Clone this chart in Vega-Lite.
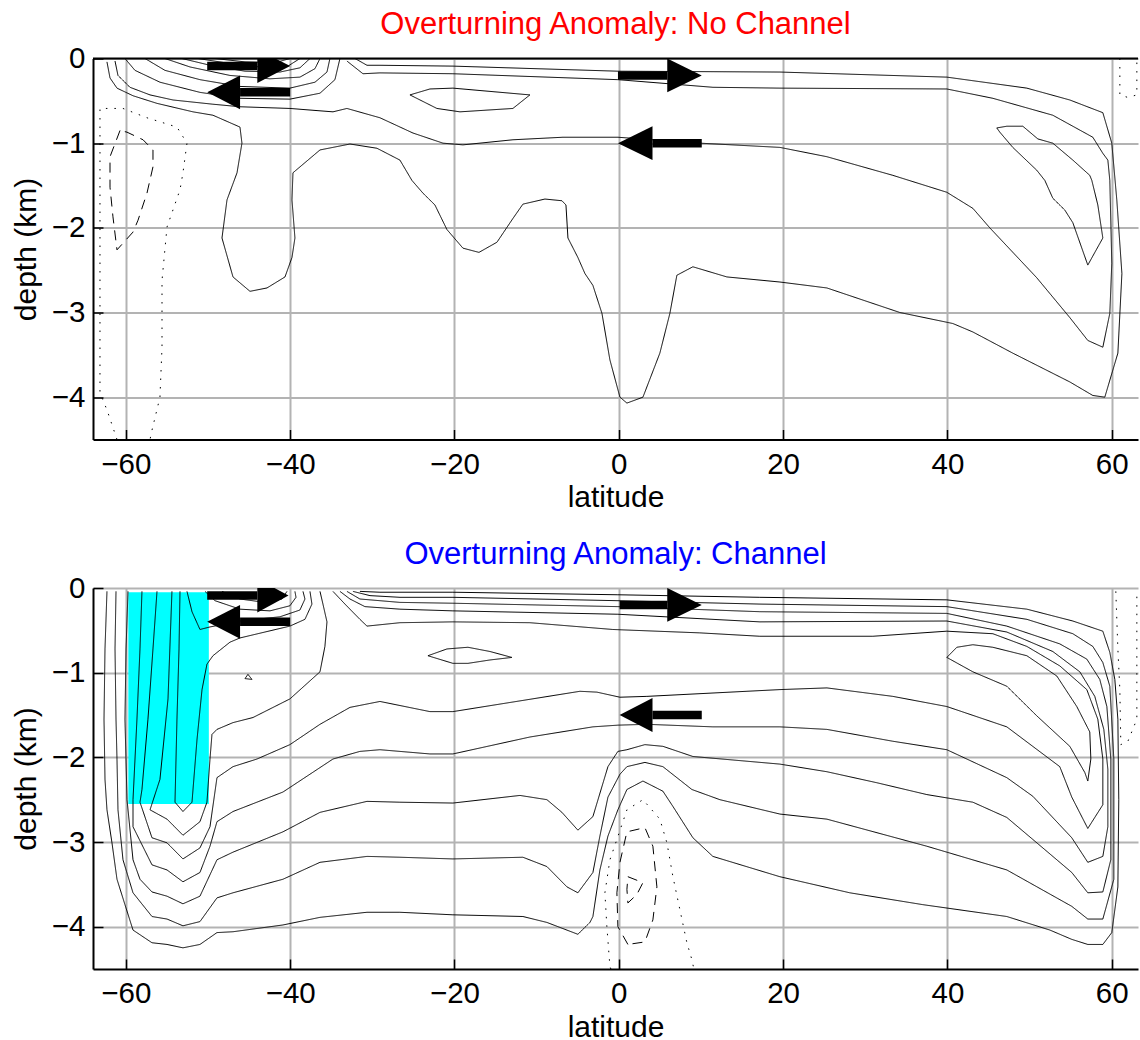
{
  "$schema": "https://vega.github.io/schema/vega-lite/v6.json",
  "padding": {"left": 11, "top": 8.5, "right": 0, "bottom": 0},
  "spacing": 25.5,
  "config": {
    "font": "Liberation Sans",
    "view": {"stroke": null},
    "axis": {
      "grid": true, "gridColor": "#b3b3b3", "gridWidth": 2, "gridOpacity": 1,
      "domainColor": "black", "domainWidth": 2,
      "tickColor": "black", "tickWidth": 1.5, "tickSize": -10,
      "labelFontSize": 29.5, "labelColor": "black", "labelFont": "Liberation Sans",
      "titleFontSize": 30, "titleFontWeight": "normal", "titleColor": "black", "titleFont": "Liberation Sans",
      "format": "d"
    },
    "axisX": {"labelPadding": 20.5, "titlePadding": 4},
    "axisY": {"labelPadding": 18, "titlePadding": 10},
    "title": {"fontSize": 31, "fontWeight": "normal", "anchor": "middle", "frame": "group", "offset": 2.5, "baseline": "alphabetic", "font": "Liberation Sans"}
  },
  "datasets": {
    "contours": [
      {"panel": "top", "line": "T1", "kind": "positive",
       "lat": [-62.30,-61.93,-61.08,-59.13,-56.21,-51.83,-49.40,-46.11,-45.87,-46.47,-47.69,-48.30,-46.96,-44.89,-42.82,-40.63,-39.78,-39.42,-39.78,-39.66,-36.37,-32.72,-29.44,-26.64,-25.18,-23.84,-22.38,-20.92,-18.97,-17.02,-14.83,-12.89,-11.67,-8.99,-6.92,-6.43,-6.19,-4.98,-4.12,-3.15,-2.05,-1.08,0.14,0.99,2.94,5.00,6.22,7.07,9.02,13.16,19.61,25.33,34.21,40.66,43.10,47.96,54.90,57.70,59.16,60.75,61.24,60.62,60.01,58.92,54.90,49.67,39.93,19.61,-0.11,-20.19,-29.07,-30.65,-32.11],
       "depth": [-0.04,-0.23,-0.35,-0.44,-0.53,-0.63,-0.67,-0.81,-1.00,-1.35,-1.67,-2.12,-2.58,-2.75,-2.71,-2.58,-2.35,-2.12,-1.67,-1.35,-1.08,-1.01,-1.06,-1.20,-1.44,-1.59,-1.73,-2.02,-2.24,-2.29,-2.17,-1.89,-1.72,-1.66,-1.68,-1.73,-2.12,-2.35,-2.54,-2.68,-3.01,-3.56,-4.00,-4.07,-4.00,-3.48,-3.01,-2.56,-2.46,-2.58,-2.64,-2.71,-3.00,-3.13,-3.23,-3.48,-3.82,-3.98,-4.00,-3.48,-2.54,-1.67,-1.00,-0.64,-0.49,-0.35,-0.22,-0.16,-0.15,-0.09,-0.08,-0.08,0]},
      {"panel": "top", "line": "T2", "kind": "positive",
       "lat": [-61.32,-60.96,-59.50,-57.06,-54.26,-49.40,-46.11,-40.03,-34.79,-33.09,-29.07,-25.06,-21.40,-18.97,-12.89,-6.80,-0.11,9.87,19.61,25.33,33.36,39.93,43.10,45.16,50.88,54.90,57.09,58.92,59.77,60.01,59.77,59.53,58.92,57.70,52.83,45.53,39.93,19.61,11.45,-0.11,-20.19,-29.07,-31.14,-33.09],
       "depth": [-0.03,-0.20,-0.34,-0.43,-0.49,-0.54,-0.57,-0.59,-0.63,-0.59,-0.70,-0.88,-1.00,-1.02,-0.96,-0.93,-0.93,-1.00,-1.05,-1.16,-1.38,-1.58,-1.77,-2.00,-2.59,-3.06,-3.33,-3.41,-3.01,-2.42,-1.44,-1.20,-1.12,-0.93,-0.67,-0.47,-0.36,-0.35,-0.34,-0.25,-0.18,-0.17,-0.18,-0.03]},
      {"panel": "top", "line": "T3", "kind": "positive",
       "lat": [46.01,47.23,49.18,51.01,52.83,54.29,55.27,57.33,57.58,58.31,58.92,57.09,55.27,54.29,52.83,51.86,50.88,47.96,46.38,46.01],
       "depth": [-0.82,-0.80,-0.80,-0.95,-1.00,-1.12,-1.20,-1.38,-1.44,-1.73,-2.12,-2.44,-1.94,-1.79,-1.65,-1.44,-1.32,-1.05,-0.87,-0.82]},
      {"panel": "top", "line": "T4", "kind": "positive",
       "lat": [-25.42,-22.99,-20.19,-10.82,-12.89,-19.33,-22.14,-25.42],
       "depth": [-0.43,-0.36,-0.35,-0.43,-0.59,-0.63,-0.59,-0.43]},
      {"panel": "top", "line": "N1", "kind": "positive",
       "lat": [-60.11,-58.89,-55.85,-50.98,-46.11,-40.03,-36.37,-34.55,-33.94],
       "depth": [0,-0.14,-0.28,-0.40,-0.47,-0.48,-0.41,-0.25,0]},
      {"panel": "top", "line": "N2", "kind": "positive",
       "lat": [-57.67,-55.24,-50.98,-46.11,-40.03,-36.98,-35.52,-35.16],
       "depth": [0,-0.14,-0.25,-0.33,-0.35,-0.28,-0.16,0]},
      {"panel": "top", "line": "N3", "kind": "positive",
       "lat": [-55.24,-52.19,-47.33,-42.46,-38.81,-36.98,-36.37],
       "depth": [0,-0.10,-0.20,-0.24,-0.22,-0.12,0]},
      {"panel": "top", "line": "N4", "kind": "positive",
       "lat": [-53.17,-49.76,-45.50,-41.24,-38.81,-37.59],
       "depth": [0,-0.08,-0.15,-0.16,-0.11,0]},
      {"panel": "top", "line": "N5", "kind": "positive",
       "lat": [-51.22,-47.94,-43.68,-40.27,-38.81],
       "depth": [0,-0.05,-0.10,-0.09,0]},
      {"panel": "top", "line": "N6", "kind": "positive",
       "lat": [-49.15,-45.50,-41.85,-40.03],
       "depth": [0,-0.04,-0.05,0]},
      {"panel": "top", "line": "T5", "kind": "negative",
       "lat": [-60.71,-61.93,-61.93,-61.57,-61.08,-59.13,-58.52,-57.43,-56.70,-56.70,-57.91,-59.86,-60.71],
       "depth": [-0.85,-1.16,-1.52,-1.87,-2.26,-2.05,-1.91,-1.59,-1.28,-1.08,-0.96,-0.87,-0.85]},
      {"panel": "top", "line": "T6", "kind": "zero",
       "lat": [-61.08,-62.30,-63.15,-63.15,-63.15,-63.15,-63.15,-60.35,-57.43,-53.78,-52.56,-53.05,-53.41,-54.99,-55.60,-55.60,-55.85,-56.82,-57.06],
       "depth": [-4.50,-4.15,-3.95,-2.85,-1.44,-0.81,-0.59,-0.59,-0.70,-0.81,-1.00,-1.35,-1.55,-1.99,-2.62,-3.41,-4.00,-4.39,-4.50]},
      {"panel": "top", "line": "T7", "kind": "zero",
       "lat": [60.99,60.99,61.97,63.06,63.06],
       "depth": [0,-0.43,-0.46,-0.43,0]},
      {"panel": "bottom", "line": "R1", "kind": "positive",
       "lat": [-56.21,-56.70,-57.31,-58.04,-58.28,-56.82,-54.99,-53.05,-50.98,-49.76,-48.91,-46.96,-44.04,-40.03,-36.37,-32.72,-29.07,-22.99,-20.19,-4.73,-2.66,0.14,3.42,19.61,25.33,33.36,39.93,47.23,53.68,55.14,57.09,58.92,58.92,58.31,56.97,53.68,49.67,45.53,39.93,30.93,17.17,9.87,-0.72,-10.82,-20.19,-26.64,-30.65,-31.51,-33.33,-34.79],
       "depth": [-0.04,-0.72,-1.55,-2.38,-2.53,-2.95,-3.01,-3.20,-3.07,-2.82,-2.24,-2.11,-2.02,-1.85,-1.61,-1.41,-1.34,-1.46,-1.46,-1.22,-1.23,-1.29,-1.28,-1.20,-1.18,-1.28,-1.40,-1.64,-2.11,-2.47,-2.84,-2.56,-2.02,-1.55,-1.20,-0.92,-0.69,-0.54,-0.51,-0.57,-0.57,-0.53,-0.49,-0.41,-0.40,-0.41,-0.45,-0.37,-0.19,-0.04]},
      {"panel": "bottom", "line": "R2", "kind": "positive",
       "lat": [-58.04,-58.28,-58.65,-59.13,-59.13,-56.82,-54.99,-53.05,-50.98,-49.76,-48.91,-46.96,-40.88,-34.79,-31.51,-29.07,-22.99,-20.19,-10.82,-3.15,-0.11,3.42,11.45,19.61,25.33,33.36,39.93,47.23,50.40,55.14,57.09,58.92,59.53,59.53,59.04,57.94,56.12,52.83,47.23,39.93,17.17,-0.11,-20.19,-26.64,-30.90,-32.72,-33.94],
       "depth": [-0.04,-0.72,-1.55,-2.50,-2.82,-3.27,-3.33,-3.47,-3.36,-3.05,-2.76,-2.64,-2.41,-2.02,-1.93,-1.91,-1.96,-1.96,-1.76,-1.64,-1.62,-1.61,-1.64,-1.64,-1.67,-1.81,-1.91,-2.24,-2.46,-2.95,-3.24,-3.17,-2.82,-2.14,-1.67,-1.28,-0.99,-0.75,-0.52,-0.39,-0.40,-0.31,-0.27,-0.25,-0.22,-0.13,-0.04]},
      {"panel": "bottom", "line": "R3", "kind": "positive",
       "lat": [-59.74,-59.98,-60.11,-59.86,-59.13,-58.28,-56.82,-54.99,-53.05,-50.98,-48.91,-46.96,-40.88,-36.37,-30.65,-26.64,-20.19,-12.03,-8.75,-6.92,-4.98,-3.15,-1.32,-0.72,-0.11,0.99,3.18,5.37,9.02,19.61,25.33,31.41,37.50,43.10,47.23,50.40,55.14,57.09,58.92,59.89,59.89,59.41,58.55,56.97,53.68,47.23,39.93,17.17,-0.11,-20.19,-26.64,-31.51,-33.09],
       "depth": [-0.04,-0.72,-1.55,-2.50,-3.21,-3.44,-3.59,-3.64,-3.73,-3.64,-3.21,-3.12,-2.88,-2.65,-2.52,-2.53,-2.54,-2.45,-2.50,-2.65,-2.86,-2.70,-2.11,-2.02,-1.93,-1.91,-1.85,-1.87,-1.99,-2.08,-2.17,-2.30,-2.44,-2.53,-2.71,-2.97,-3.36,-3.60,-3.59,-3.21,-2.02,-1.40,-1.08,-0.84,-0.66,-0.45,-0.30,-0.28,-0.22,-0.18,-0.17,-0.13,-0.04]},
      {"panel": "bottom", "line": "R4", "kind": "positive",
       "lat": [-61.20,-61.32,-61.20,-61.08,-60.96,-60.35,-59.13,-56.82,-54.99,-53.05,-50.98,-48.91,-46.96,-40.88,-36.37,-30.65,-26.64,-20.19,-11.67,-8.75,-6.31,-4.98,-3.15,-2.30,-1.32,0.14,0.99,3.18,5.37,8.90,12.30,19.61,25.33,37.50,47.23,55.14,57.09,58.92,60.26,60.26,59.77,58.92,57.70,55.27,49.67,39.93,17.17,-0.11,-20.19,-26.64,-30.29,-32.36],
       "depth": [-0.04,-0.72,-1.55,-2.02,-2.62,-3.21,-3.60,-3.88,-3.91,-3.99,-3.94,-3.66,-3.60,-3.44,-3.24,-3.17,-3.18,-3.20,-3.18,-3.29,-3.53,-3.60,-3.36,-2.93,-2.47,-2.20,-2.11,-2.06,-2.11,-2.38,-2.50,-2.67,-2.73,-3.05,-3.33,-3.76,-3.91,-3.91,-3.44,-2.02,-1.16,-0.88,-0.69,-0.54,-0.37,-0.22,-0.19,-0.15,-0.11,-0.11,-0.09,-0.04]},
      {"panel": "bottom", "line": "R5", "kind": "positive",
       "lat": [-62.30,-62.54,-62.66,-62.54,-62.30,-61.69,-61.08,-60.11,-59.13,-56.82,-54.99,-53.05,-50.98,-48.91,-46.96,-40.88,-36.37,-30.65,-26.64,-20.19,-11.67,-8.75,-4.98,-3.51,-3.15,-2.30,-1.32,-0.11,0.99,2.94,5.37,6.59,9.02,11.45,19.61,28.12,37.01,47.23,52.47,55.14,57.09,58.92,60.01,60.75,60.86,60.75,60.38,59.77,58.92,55.27,49.67,39.93,17.17,-0.11,-20.19,-29.07,-31.51],
       "depth": [-0.04,-0.72,-1.55,-2.26,-2.62,-3.01,-3.44,-3.74,-4.04,-4.19,-4.21,-4.25,-4.21,-4.07,-4.06,-3.98,-3.89,-3.83,-3.83,-3.86,-3.88,-3.95,-4.09,-3.95,-3.88,-3.33,-2.93,-2.62,-2.38,-2.28,-2.40,-2.58,-2.95,-3.17,-3.41,-3.60,-3.74,-3.88,-4.04,-4.15,-4.21,-4.21,-4.07,-3.53,-2.50,-1.55,-1.08,-0.76,-0.51,-0.39,-0.25,-0.14,-0.11,-0.08,-0.05,-0.05,-0.04]},
      {"panel": "bottom", "line": "V2", "kind": "positive",
       "lat": [-54.39,-54.87,-55.85,-57.06,-54.99,-53.05,-50.98,-50.13,-49.76,-49.52,-48.91,-46.96,-44.53,-40.03,-36.37,-35.77,-35.52,-36.01,-36.37],
       "depth": [-0.04,-1.31,-2.26,-2.62,-2.73,-2.92,-2.76,-2.53,-2.02,-1.73,-1.67,-1.59,-1.53,-1.31,-0.99,-0.69,-0.40,-0.19,-0.04]},
      {"panel": "bottom", "line": "V1", "kind": "positive",
       "lat": [-53.41,-53.53,-53.78,-54.02,-53.05,-51.95,-51.34,-50.73,-50.13,-49.40,-47.33,-46.11,-43.07,-40.03,-38.20,-37.35,-37.59],
       "depth": [-0.04,-0.72,-1.55,-2.53,-2.64,-2.53,-1.79,-1.20,-0.90,-0.80,-0.64,-0.59,-0.52,-0.45,-0.37,-0.19,-0.04]},
      {"panel": "bottom", "line": "SC1", "kind": "positive",
       "lat": [-52.56,-51.95,-50.98,-49.76,-46.11,-41.24,-38.81,-38.20,-38.44],
       "depth": [-0.04,-0.28,-0.49,-0.46,-0.39,-0.34,-0.26,-0.13,-0.04]},
      {"panel": "bottom", "line": "SC2", "kind": "positive",
       "lat": [-50.37,-49.15,-46.11,-42.46,-40.03,-39.29,-39.42],
       "depth": [-0.04,-0.15,-0.25,-0.27,-0.21,-0.11,-0.04]},
      {"panel": "bottom", "line": "SC3", "kind": "positive",
       "lat": [-48.30,-46.11,-43.07,-41.00,-40.39],
       "depth": [-0.04,-0.13,-0.17,-0.13,-0.04]},
      {"panel": "bottom", "line": "NE", "kind": "positive",
       "lat": [39.93,41.15,43.10,45.53,49.67,53.32,55.75,57.33,57.46,57.09,56.73,54.90,50.88,47.23,43.10,39.93],
       "depth": [-0.82,-0.70,-0.67,-0.70,-0.80,-1.04,-1.40,-1.70,-2.02,-2.28,-2.18,-1.87,-1.51,-1.16,-0.99,-0.82]},
      {"panel": "bottom", "line": "LENS", "kind": "positive",
       "lat": [-23.23,-20.92,-18.36,-15.68,-13.01,-15.68,-18.36,-20.19,-23.23],
       "depth": [-0.80,-0.72,-0.70,-0.75,-0.82,-0.85,-0.89,-0.89,-0.80]},
      {"panel": "bottom", "line": "TRI", "kind": "positive",
       "lat": [-45.50,-45.14,-44.65,-45.50],
       "depth": [-1.07,-1.02,-1.08,-1.07]},
      {"panel": "bottom", "line": "DA1", "kind": "negative",
       "lat": [1.11,-0.11,-0.23,0.14,0.99,3.18,4.15,4.64,4.15,3.18,1.11],
       "depth": [-4.21,-4.00,-3.60,-3.24,-2.88,-2.83,-3.05,-3.53,-3.92,-4.18,-4.21]},
      {"panel": "bottom", "line": "DA2", "kind": "negative",
       "lat": [1.11,2.94,2.20,1.11,0.99,1.11],
       "depth": [-3.41,-3.48,-3.62,-3.72,-3.56,-3.41]},
      {"panel": "bottom", "line": "DO1", "kind": "zero",
       "lat": [-0.96,-1.08,-1.45,-1.69,-1.08,-0.23,0.99,2.94,5.00,5.86,6.59,7.44,8.29,8.90,9.14],
       "depth": [-4.50,-4.47,-4.00,-3.60,-3.21,-2.97,-2.62,-2.50,-2.73,-3.01,-3.41,-3.80,-4.19,-4.39,-4.50]},
      {"panel": "bottom", "line": "DO2", "kind": "zero",
       "lat": [60.50,60.75,60.99,61.11,61.97,63.06,63.06],
       "depth": [-0.04,-0.72,-1.20,-1.85,-1.81,-1.55,-0.04]}
    ],
    "arrows": [
      {"panel": "top", "arrow": "A1", "lat": -50.1, "lat2": -44.0, "depth": -0.09},
      {"panel": "top", "arrow": "A2", "lat": -40.0, "lat2": -46.1, "depth": -0.40},
      {"panel": "top", "arrow": "A3", "lat": -0.1, "lat2": 5.9, "depth": -0.20},
      {"panel": "top", "arrow": "A4", "lat": 10.1, "lat2": 4.1, "depth": -1.00},
      {"panel": "bottom", "arrow": "B1", "lat": -50.1, "lat2": -44.0, "depth": -0.09},
      {"panel": "bottom", "arrow": "B2", "lat": -40.0, "lat2": -46.1, "depth": -0.40},
      {"panel": "bottom", "arrow": "B3", "lat": 0.1, "lat2": 5.9, "depth": -0.20},
      {"panel": "bottom", "arrow": "B4", "lat": 10.1, "lat2": 4.1, "depth": -1.50}
    ],
    "heads": [
      {"panel": "top", "arrow": "A1", "lat": -44.0, "depth": -0.29, "depth2": 0.11},
      {"panel": "top", "arrow": "A1", "lat": -40.0, "depth": -0.09, "depth2": -0.09},
      {"panel": "top", "arrow": "A2", "lat": -46.1, "depth": -0.60, "depth2": -0.20},
      {"panel": "top", "arrow": "A2", "lat": -50.1, "depth": -0.40, "depth2": -0.40},
      {"panel": "top", "arrow": "A3", "lat": 5.9, "depth": -0.40, "depth2": 0.00},
      {"panel": "top", "arrow": "A3", "lat": 10.1, "depth": -0.20, "depth2": -0.20},
      {"panel": "top", "arrow": "A4", "lat": 4.1, "depth": -1.20, "depth2": -0.80},
      {"panel": "top", "arrow": "A4", "lat": -0.1, "depth": -1.00, "depth2": -1.00},
      {"panel": "bottom", "arrow": "B1", "lat": -44.0, "depth": -0.29, "depth2": 0.11},
      {"panel": "bottom", "arrow": "B1", "lat": -40.2, "depth": -0.09, "depth2": -0.09},
      {"panel": "bottom", "arrow": "B2", "lat": -46.1, "depth": -0.60, "depth2": -0.20},
      {"panel": "bottom", "arrow": "B2", "lat": -50.1, "depth": -0.40, "depth2": -0.40},
      {"panel": "bottom", "arrow": "B3", "lat": 5.9, "depth": -0.40, "depth2": 0.00},
      {"panel": "bottom", "arrow": "B3", "lat": 10.1, "depth": -0.20, "depth2": -0.20},
      {"panel": "bottom", "arrow": "B4", "lat": 4.1, "depth": -1.70, "depth2": -1.30},
      {"panel": "bottom", "arrow": "B4", "lat": 0.1, "depth": -1.50, "depth2": -1.50}
    ],
    "channel": [
      {"panel": "bottom", "lat": -59.7, "lat2": -49.9, "depth": -0.05, "depth2": -2.55}
    ]
  },
  "vconcat": [
    {
      "title": {"text": "Overturning Anomaly: No Channel", "color": "#ff0000"},
      "width": 1045,
      "height": 381,
      "layer": [
        {
          "data": {"name": "contours"},
          "transform": [
            {"filter": "datum.panel === 'top'"},
            {"flatten": ["lat", "depth"]},
            {"window": [{"op": "row_number", "as": "idx"}]}
          ],
          "mark": {"type": "line", "color": "black", "strokeWidth": 1, "clip": true},
          "encoding": {
            "x": {"field": "lat", "type": "quantitative", "scale": {"domain": [-64, 63.2], "nice": false, "zero": false},
                  "axis": {"values": [-60, -40, -20, 0, 20, 40, 60], "title": "latitude"}},
            "y": {"field": "depth", "type": "quantitative", "scale": {"domain": [-4.5, 0], "nice": false, "zero": false},
                  "axis": {"values": [0, -1, -2, -3, -4], "title": "depth (km)"}},
            "detail": {"field": "line", "type": "nominal"},
            "strokeDash": {"field": "kind", "type": "nominal", "legend": null,
                           "scale": {"domain": ["positive", "negative", "zero"], "range": [[1, 0], [10, 7], [1.5, 7]]}},
            "order": {"field": "idx", "type": "quantitative"}
          }
        },
        {
          "data": {"name": "arrows"},
          "transform": [{"filter": "datum.panel === 'top'"}],
          "mark": {"type": "rule", "color": "black", "strokeWidth": 8.5, "strokeCap": "butt"},
          "encoding": {
            "x": {"field": "lat", "type": "quantitative", "scale": {"domain": [-64, 63.2], "nice": false, "zero": false}},
            "x2": {"field": "lat2"},
            "y": {"field": "depth", "type": "quantitative", "scale": {"domain": [-4.5, 0], "nice": false, "zero": false}}
          }
        },
        {
          "data": {"name": "heads"},
          "transform": [{"filter": "datum.panel === 'top'"}],
          "mark": {"type": "area", "color": "black", "clip": true, "opacity": 1},
          "encoding": {
            "x": {"field": "lat", "type": "quantitative", "scale": {"domain": [-64, 63.2], "nice": false, "zero": false}},
            "y": {"field": "depth", "type": "quantitative", "scale": {"domain": [-4.5, 0], "nice": false, "zero": false}},
            "y2": {"field": "depth2"},
            "detail": {"field": "arrow", "type": "nominal"}
          }
        },
        {
          "data": {"values": [{"depth": 0}]},
          "mark": {"type": "rule", "color": "black", "strokeWidth": 2},
          "encoding": {
            "y": {"field": "depth", "type": "quantitative", "scale": {"domain": [-4.5, 0], "nice": false, "zero": false}}
          }
        }
      ]
    },
    {
      "title": {"text": "Overturning Anomaly: Channel", "color": "#0000ff"},
      "width": 1045,
      "height": 381,
      "layer": [
        {
          "data": {"name": "channel"},
          "mark": {"type": "rect", "color": "#00ffff", "opacity": 1},
          "encoding": {
            "x": {"field": "lat", "type": "quantitative", "scale": {"domain": [-64, 63.2], "nice": false, "zero": false},
                  "axis": {"values": [-60, -40, -20, 0, 20, 40, 60], "title": "latitude"}},
            "x2": {"field": "lat2"},
            "y": {"field": "depth", "type": "quantitative", "scale": {"domain": [-4.5, 0], "nice": false, "zero": false},
                  "axis": {"values": [0, -1, -2, -3, -4], "title": "depth (km)"}},
            "y2": {"field": "depth2"}
          }
        },
        {
          "data": {"name": "contours"},
          "transform": [
            {"filter": "datum.panel === 'bottom'"},
            {"flatten": ["lat", "depth"]},
            {"window": [{"op": "row_number", "as": "idx"}]}
          ],
          "mark": {"type": "line", "color": "black", "strokeWidth": 1, "clip": true},
          "encoding": {
            "x": {"field": "lat", "type": "quantitative", "scale": {"domain": [-64, 63.2], "nice": false, "zero": false}},
            "y": {"field": "depth", "type": "quantitative", "scale": {"domain": [-4.5, 0], "nice": false, "zero": false}},
            "detail": {"field": "line", "type": "nominal"},
            "strokeDash": {"field": "kind", "type": "nominal", "legend": null,
                           "scale": {"domain": ["positive", "negative", "zero"], "range": [[1, 0], [10, 7], [1.5, 7]]}},
            "order": {"field": "idx", "type": "quantitative"}
          }
        },
        {
          "data": {"name": "arrows"},
          "transform": [{"filter": "datum.panel === 'bottom'"}],
          "mark": {"type": "rule", "color": "black", "strokeWidth": 8.5, "strokeCap": "butt"},
          "encoding": {
            "x": {"field": "lat", "type": "quantitative", "scale": {"domain": [-64, 63.2], "nice": false, "zero": false}},
            "x2": {"field": "lat2"},
            "y": {"field": "depth", "type": "quantitative", "scale": {"domain": [-4.5, 0], "nice": false, "zero": false}}
          }
        },
        {
          "data": {"name": "heads"},
          "transform": [{"filter": "datum.panel === 'bottom'"}],
          "mark": {"type": "area", "color": "black", "clip": true, "opacity": 1},
          "encoding": {
            "x": {"field": "lat", "type": "quantitative", "scale": {"domain": [-64, 63.2], "nice": false, "zero": false}},
            "y": {"field": "depth", "type": "quantitative", "scale": {"domain": [-4.5, 0], "nice": false, "zero": false}},
            "y2": {"field": "depth2"},
            "detail": {"field": "arrow", "type": "nominal"}
          }
        }
      ]
    }
  ]
}
